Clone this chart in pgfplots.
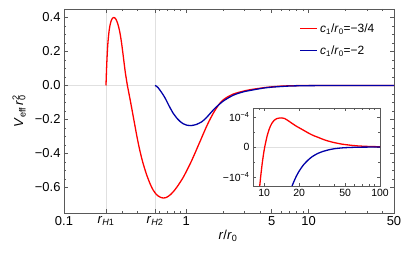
\documentclass[border=0pt]{standalone}
\usepackage{fontspec}
\setmainfont{Liberation Sans}
\usepackage{pgfplots}
\pgfplotsset{compat=1.18}

\definecolor{cred}{rgb}{1,0,0}
\definecolor{cblue}{rgb}{0,0,0.66}
\definecolor{framegray}{gray}{0.35}
\definecolor{gridgray}{gray}{0.88}

\newcommand{\rr}{\textit{r}}
\newcommand{\fbig}{\fontsize{13}{15}\selectfont}
\newcommand{\fmid}{\fontsize{12}{14}\selectfont}
\newcommand{\fsmall}{\fontsize{10.5}{12}\selectfont}
\newcommand{\lstrut}{\rule[-3.5bp]{0pt}{14bp}}

\pgfplotsset{
  mathframe/.style={
    scale only axis,
    tick align=inside,
    major tick length=4bp,
    minor tick length=2.2bp,
    axis line style={framegray, line width=0.6pt},
    every tick/.style={framegray, line width=0.5pt},
    scaled y ticks=false,
  },
}

\begin{document}
\begin{tikzpicture}
\useasboundingbox (0,0) rectangle (403bp,255bp);

% main plot
\begin{axis}[
  xmode=log,
  mathframe,
  at={(64bp,42bp)}, anchor=south west,
  width=330bp, height=204bp,
  xmin=0.1, xmax=50,
  ymin=-0.75, ymax=0.45,
  xtick={0.1,0.2205,0.555,1,5,10,50},
  xticklabels={0.1,\rr\textsubscript{\textit{H}1},\rr\textsubscript{\textit{H}2},1,5,10,50},
  minor xtick={0.3,0.4,0.6,0.7,0.8,0.9,2,3,4,6,7,8,9,20,30,40},
  ytick={-0.6,-0.4,-0.2,0,0.2,0.4},
  yticklabels={−0.6,−0.4,−0.2,0.0,0.2,0.4},
  minor y tick num=3,
  extra x ticks={0.2205,0.555},
  extra x tick labels={},
  extra x tick style={grid=major, major grid style={gridgray, line width=0.8pt}},
  extra y ticks={0},
  extra y tick labels={},
  extra y tick style={grid=major, major grid style={gridgray, line width=0.8pt}},
  tick label style={font=\fbig},
  xlabel={\rr/\rr\textsubscript{0}},
  xlabel style={at={(axis description cs:0.497,-0.113)}, anchor=center, font=\fbig},
  ylabel={\textit{V}\textsubscript{eff}\,\rr\rlap{\textsubscript{0}}\textsuperscript{2}},
  ylabel style={at={(axis description cs:-0.136,0.5)}, anchor=center, font=\fbig},
  legend style={at={(axis description cs:0.705,0.955)}, anchor=north west,
    draw=none, fill=none, font=\fmid, row sep=6bp},
  legend cell align=left,
]
\addplot[cred, line width=1.3pt, smooth, tension=0.2] coordinates {
  (0.2205,0) (0.2216,0.046) (0.2227,0.090) (0.2241,0.138) (0.2257,0.185)
  (0.2278,0.235) (0.2303,0.277) (0.2335,0.318) (0.2356,0.337) (0.2377,0.353)
  (0.2403,0.368) (0.2430,0.380) (0.2456,0.388) (0.2483,0.394) (0.2507,0.397)
  (0.2530,0.399) (0.2555,0.3995) (0.2580,0.399) (0.2610,0.397) (0.2640,0.393)
  (0.2676,0.386) (0.2713,0.376) (0.2750,0.364) (0.2790,0.348) (0.2830,0.330)
  (0.2871,0.308) (0.2915,0.280) (0.2960,0.248) (0.3005,0.212) (0.3054,0.172)
  (0.3110,0.126) (0.3170,0.079) (0.3235,0.038) (0.3300,0.000) (0.3400,-0.048)
  (0.3500,-0.095) (0.3690,-0.185) (0.3930,-0.292) (0.4050,-0.340) (0.4180,-0.385)
  (0.4310,-0.425) (0.4450,-0.462) (0.4600,-0.496) (0.4750,-0.527) (0.4900,-0.553)
  (0.5050,-0.577) (0.5210,-0.598) (0.5370,-0.616) (0.5620,-0.636) (0.5870,-0.649)
  (0.6170,-0.658) (0.6490,-0.662) (0.6780,-0.660) (0.7090,-0.653) (0.7450,-0.641)
  (0.7830,-0.625) (0.8180,-0.608) (0.8550,-0.589) (0.8990,-0.565) (0.9450,-0.540)
  (0.9810,-0.518) (1.0190,-0.495) (1.0620,-0.469) (1.1070,-0.442) (1.1520,-0.414)
  (1.2000,-0.385) (1.2500,-0.355) (1.3020,-0.326) (1.3600,-0.294) (1.4220,-0.262)
  (1.4760,-0.236) (1.5330,-0.211) (1.5960,-0.187) (1.6630,-0.163) (1.7420,-0.139)
  (1.8270,-0.117) (1.9100,-0.099) (1.9950,-0.086) (2.1000,-0.074) (2.2050,-0.065)
  (2.4090,-0.051) (2.6620,-0.041) (3.0200,-0.031) (3.3700,-0.024) (3.7640,-0.019)
  (4.4000,-0.012) (5.1450,-0.007) (6.0000,-0.0035) (7.0450,-0.0015) (8.5,-0.0005)
  (10.250,0.000) (20,0.00005) (50,0.00001)
};
\addlegendentry{\lstrut\textit{c}\textsubscript{1}/\rr\textsubscript{0}=−3/4}
\addplot[cblue, line width=1.3pt, smooth, tension=0.3] coordinates {
  (0.555,0) (0.570,-0.004) (0.587,-0.012) (0.610,-0.028) (0.630,-0.042)
  (0.649,-0.056) (0.670,-0.073) (0.692,-0.092) (0.714,-0.112) (0.736,-0.130)
  (0.760,-0.148) (0.783,-0.164) (0.835,-0.191) (0.888,-0.211) (0.945,-0.225)
  (1.008,-0.233) (1.093,-0.236) (1.200,-0.230) (1.336,-0.214) (1.449,-0.192)
  (1.562,-0.166) (1.684,-0.140) (1.827,-0.116) (1.995,-0.093) (2.205,-0.073)
  (2.409,-0.058) (2.662,-0.046) (3.020,-0.035) (3.764,-0.022) (4.400,-0.014)
  (5.145,-0.009) (7.045,-0.003) (10.25,-0.0008) (18,-0.0001) (30,-0.00002) (50,0)
};
\addlegendentry{\lstrut\textit{c}\textsubscript{1}/\rr\textsubscript{0}=−2}
\end{axis}

% inset
\begin{axis}[
  xmode=log,
  mathframe,
  at={(253bp,69bp)}, anchor=south west,
  width=127bp, height=78bp,
  axis background/.style={fill=white},
  major tick length=3bp, minor tick length=1.8bp,
  xmin=8, xmax=100,
  ymin=-1.3e-4, ymax=1.3e-4,
  xtick={10,20,50,100},
  xticklabels={10,20,50,100},
  minor xtick={9,30,40,60,70,80,90},
  ytick={-1e-4,0,1e-4},
  yticklabels={−10\textsuperscript{−4},0,10\textsuperscript{−4}},
  minor ytick={-0.5e-4,0.5e-4},
  extra y ticks={0},
  extra y tick labels={},
  extra y tick style={grid=major, major grid style={gridgray, line width=0.8pt}},
  tick label style={font=\fsmall},
]
\addplot[cred, line width=1.3pt, smooth, tension=0.4] coordinates {
  (8.9,-1.85e-4) (9.12,-1.36e-4) (9.3,-1.02e-4) (9.6,-0.56e-4) (9.85,-0.25e-4)
  (10.1,0) (10.6,0.37e-4) (11.1,0.62e-4) (11.6,0.78e-4) (12.2,0.89e-4)
  (12.8,0.945e-4) (13.5,0.965e-4) (14.2,0.97e-4) (15.0,0.95e-4) (16.2,0.87e-4)
  (17.5,0.78e-4) (19,0.69e-4) (20.7,0.61e-4) (22.5,0.53e-4) (24.5,0.45e-4)
  (26.5,0.385e-4) (28.8,0.33e-4) (31.5,0.27e-4) (34.5,0.215e-4) (39.9,0.15e-4)
  (47,0.095e-4) (55.4,0.06e-4) (65,0.035e-4) (80,0.018e-4) (100,0.008e-4)
};
\addplot[cblue, line width=1.3pt, smooth, tension=0.4] coordinates {
  (16.6,-1.53e-4) (17.25,-1.34e-4) (18,-1.16e-4) (18.8,-1.0e-4) (19.7,-0.85e-4)
  (20.7,-0.72e-4) (22,-0.58e-4) (24,-0.43e-4) (26,-0.32e-4) (28.8,-0.22e-4)
  (32,-0.15e-4) (36,-0.095e-4) (40,-0.06e-4) (47,-0.03e-4) (55,-0.015e-4)
  (70,-0.005e-4) (100,-0.001e-4)
};
\end{axis}
\end{tikzpicture}
\end{document}
